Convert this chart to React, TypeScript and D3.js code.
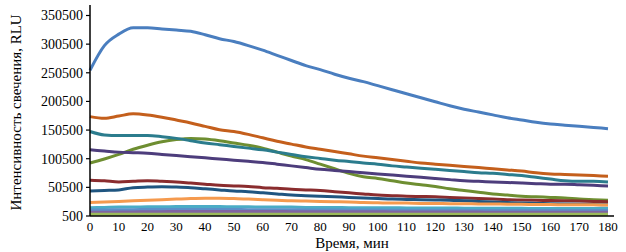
import React from "react";
import * as d3 from "d3";

const times = d3.range(0, 185, 5);
const yTicks = [500, 50500, 100500, 150500, 200500, 250500, 300500, 350500];
const xTicks = d3.range(0, 190, 10);

const blue = [255,298,318,329,329,327,325,323,317,310,305,298,290,281,272,263,256,248,241,235,228,221,214,207,200,193,187,182,177,172,168,164,161,159,157,155,153];
const darkOrange = [174,171,175,179,177,173,168,163,157,151,148,143,137,131,126,121,117,113,109,105,102,99,96,93,91,89,87,85,83,81,79,76,74,73,72,71,70];
const teal = [148,142,141,141,141,139,136,132,128,125,122,119,116,112,108,104,101,98,95.5,93,91,88,86,84,82,80,78,76,75,73,71,68,65,62,61,61,60];
const green = [93,100,108,117,124,130,134,136,135,132,128,124,119,112,105,99,91,83,75,69,66,62,58,55,52,48,45,42,39,37,35,34,33,32,30,29,28];
const purple = [116,114,112,111,110,108,106,104,102,100,98,96,94,91,88,85,82,80,78,76,74,72,70,68,66,64,62,61,60,59,58,57,56,56,55,54,53];
const darkRed = [63,62,60,61,62,61,60,58,56,54,53,52,50,49,47,46,45,43,41,39,37,36,35,34.5,34,33,32,31,30,29,28.5,28,27.5,27,26.5,26,25.5];
const darkBlue = [44,45,46,50,51,51.5,51,50,48,46,44,43,41,39,37,36,35,34,33,32,31,30,29.5,29,28.5,28,27,26,25,24,23,22.5,22,21.5,21,20.5,20];
const lightOrange = [24,25,26,27,28,29,30,31,31.5,31.5,31,30,29,28,27,26.5,26,25.5,25,24,23.5,23,23,22.5,22.5,22,22,21.5,21.5,21,21,20.5,20.5,20,20,20,19.5];
const cyan = [15,15.5,16,16,16.5,16.5,17,17,17,17,16.5,16.5,16,16,16,15.5,15.5,15.5,15,15,15,15,14.5,14.5,14.5,14.5,14,14,14,14,14,13.5,13.5,13.5,13.5,13.5,13.5];
const midBlue = [11,11,11.5,11.5,12,12,12,12,12,12,12,11.5,11.5,11.5,11.5,11,11,11,11,11,11,10.5,10.5,10.5,10.5,10.5,10.5,10,10,10,10,10,10,10,10,10,10];
const lightPurple = [7,7,7.5,7.5,8,8,8.5,8.5,8.5,8.5,8.5,8.5,8.5,8.5,8,8,8,8,8,8,8,7.5,7.5,7.5,7.5,7.5,7.5,7.5,7,7,7,7,7,7,7,7,7];
const olive = [3.5,3.5,3.5,3.5,3.5,3.5,3.5,3.5,3.5,3.5,3.5,3.5,3.5,3.5,3.5,3.5,3.5,3.5,3.5,3.5,3.5,3.5,3.5,3.5,3.5,3.5,3.5,3.5,3.5,3.5,3.5,3.5,3.5,3.5,3.5,3.5,3.5];

const series = [
  { values: blue, color: "#4a7ebf" },
  { values: darkOrange, color: "#c45f1c" },
  { values: green, color: "#6e8e31" },
  { values: teal, color: "#2b7c8d" },
  { values: purple, color: "#4d3d7c" },
  { values: darkRed, color: "#8a2c2e" },
  { values: darkBlue, color: "#1f5580" },
  { values: lightOrange, color: "#f59a4e" },
  { values: cyan, color: "#4bacc6" },
  { values: midBlue, color: "#5b8fc9" },
  { values: lightPurple, color: "#8064a2" },
  { values: olive, color: "#9bbb59" },
];

const FONT = "'Liberation Serif', 'Times New Roman', Times, 'DejaVu Serif', serif";

export default function App() {
  const W = 626, H = 252;
  const x0 = 90, x1 = 608, yBottom = 216;
  const x = d3.scaleLinear().domain([0, 180]).range([x0, x1]);
  const y = d3.scaleLinear().domain([500, 350500]).range([yBottom, 15.5]);
  const yTop = y(369000);
  const line = d3
    .line<number>()
    .x((_, i) => x(times[i]))
    .y((d) => y(d * 1000))
    .curve(d3.curveMonotoneX);

  return (
    <svg width={W} height={H} style={{ position: "absolute", left: 0, top: 0, background: "#fff", fontFamily: FONT }}>
      <rect width={W} height={H} fill="#fff" />
      <g>
        {series.map((s, i) => (
          <path key={i} d={line(s.values) || ""} fill="none" stroke={s.color} strokeWidth={3} strokeLinejoin="round" />
        ))}
      </g>
      <line x1={x0} x2={x0} y1={yTop} y2={yBottom} stroke="#000" strokeWidth={1.5} />
      <line x1={x0} x2={x1 + 6} y1={yBottom} y2={yBottom} stroke="#000" strokeWidth={1.5} />
      {yTicks.map((t) => (
        <g key={t}>
          <line x1={x0 - 4} x2={x0} y1={y(t)} y2={y(t)} stroke="#000" strokeWidth={1.2} />
          <text x={x0 - 7} y={y(t)} dy="0.35em" textAnchor="end" fontFamily={FONT} fontSize={14} fill="#000">
            {t}
          </text>
        </g>
      ))}
      {xTicks.map((t) => (
        <text key={t} x={x(t)} y={yBottom + 15} textAnchor="middle" fontFamily={FONT} fontSize={13} fill="#000">
          {t}
        </text>
      ))}
      <text x={352} y={248} textAnchor="middle" fontFamily={FONT} fontSize={15} fill="#000">
        Время, мин
      </text>
      <text
        transform={`translate(21, ${(yTop + yBottom) / 2 + 2}) rotate(-90)`}
        textAnchor="middle"
        fontFamily={FONT}
        fontSize={15}
        fill="#000"
      >
        Интенсивность свечения, RLU
      </text>
    </svg>
  );
}
